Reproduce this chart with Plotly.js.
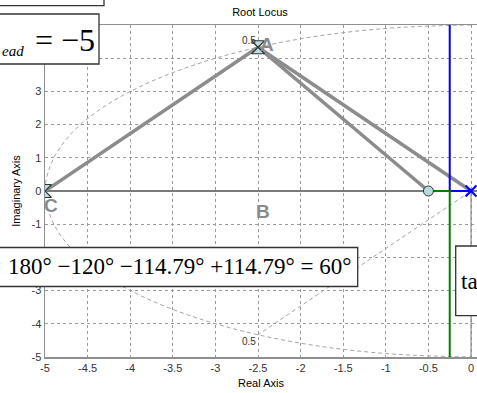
<!DOCTYPE html>
<html>
<head>
<meta charset="utf-8">
<script src="https://cdn.plot.ly/plotly-3.0.1.min.js"></script>
<style>html,body{margin:0;padding:0;background:#fff;}#chart{width:477px;height:393px;}</style>
</head>
<body>
<div id="chart"></div>
<script>
// ---- data ----
const xTickVals = [-5, -4.5, -4, -3.5, -3, -2.5, -2, -1.5, -1, -0.5, 0];
const xTickText = ["-5", "-4.5", "-4", "-3.5", "-3", "-2.5", "-2", "-1.5", "-1", "-0.5", "0"];
const yTickVals = [-5, -4, -3, -2, -1, 0, 1, 2, 3, 4, 5];
// labels 4, 5 and -2 are hidden behind the pasted boxes in the reference
const yTickText = ["-5", "-4", "-3", "", "-1", "0", "1", "2", "3", "", ""];

// constant natural-frequency curve (dashed grey)
const wnRe = [0, -0.87, -1.71, -2.5, -3.21, -3.83, -4.33, -4.70, -4.92, -5, -4.92, -4.70, -4.33, -3.83, -3.21, -2.5, -1.71, -0.87, 0];
const wnIm = [5, 4.92, 4.70, 4.33, 3.83, 3.21, 2.5, 1.71, 0.87, 0, -0.87, -1.71, -2.5, -3.21, -3.83, -4.33, -4.70, -4.92, -5];
// constant damping ratio line (0.5)
const zetaRe = [-2.5, 0, -2.5];
const zetaIm = [4.33, 0, -4.33];
const zetaLabel = "0.5";

// thick grey construction lines C-A, A-zero, A-pole
const constrRe = [-5, -2.5, -0.5, null, -2.5, 0];
const constrIm = [0, 4.33, 0, null, 4.33, 0];

// root locus branches
const blueRe = [0, -0.25, -0.25];
const blueIm = [0, 0, 5];
const greenRe = [-0.5, -0.25, -0.25];
const greenIm = [0, 0, -5];

// markers
const desiredRe = [-2.5, -5];   // A and C
const desiredIm = [4.33, 0];
const zeroRe = [-0.5];
const zeroIm = [0];
const poleRe = [0];
const poleIm = [0];
const imAxisRe = [0, 0];
const imAxisIm = [0, -5];

const pointLabels = ["A", "B", "C"];
const leadText = "<i>ead</i>";
const leadValue = "= −5";
const angleText = "180° −120° −114.79° +114.79° = 60°";
const tanText = "ta";

// ---- plot ----
const L = 45, T = 25, W = 432, H = 332;
const px = v => (v - L) / W;
const py = v => (T + H - v) / H;

const grey = '#8c8c8c';
const traces = [
  {x: wnRe, y: wnIm, mode: 'lines', line: {color: '#a4a4a4', width: 1, dash: '4px,3px', shape: 'spline'}, hoverinfo: 'skip'},
  {x: zetaRe, y: zetaIm, mode: 'lines', line: {color: '#a4a4a4', width: 1, dash: '4px,3px'}, hoverinfo: 'skip'},
  {x: imAxisRe, y: imAxisIm, mode: 'lines', line: {color: '#8a8a8a', width: 1.2}, hoverinfo: 'skip'},
  {x: constrRe, y: constrIm, mode: 'lines', line: {color: grey, width: 3.5}, hoverinfo: 'skip'},
  {x: blueRe, y: blueIm, mode: 'lines', line: {color: '#0000ff', width: 2}},
  {x: greenRe, y: greenIm, mode: 'lines', line: {color: '#008000', width: 2}},
  {x: desiredRe, y: desiredIm, mode: 'markers', marker: {symbol: 'hourglass', size: 13, color: '#b4e0e6', line: {color: '#333333', width: 1.2}}},
  {x: zeroRe, y: zeroIm, mode: 'markers', marker: {symbol: 'circle', size: 10, color: '#b8dada', line: {color: '#333', width: 1}}},
  {x: poleRe, y: poleIm, mode: 'markers', marker: {symbol: 'x-thin-open', size: 11, color: '#0000ff', line: {color: '#0000ff', width: 2.2}}}
];

const sans = 'Liberation Sans, Arial, sans-serif';
const serif = 'Liberation Serif, Times New Roman, serif';

const boxStyle = {type: 'rect', xref: 'paper', yref: 'paper', fillcolor: '#ffffff', line: {color: '#333333', width: 1.3}, layer: 'above'};
const shapes = [
  Object.assign({x0: px(-10), x1: px(104), y0: py(5.7), y1: py(-10)}, boxStyle),
  Object.assign({x0: px(-10), x1: px(99), y0: py(64), y1: py(14)}, boxStyle),
  Object.assign({x0: px(-10), x1: px(357.7), y0: py(286.5), y1: py(247.5)}, boxStyle),
  Object.assign({x0: px(455.7), x1: px(495), y0: py(315.7), y1: py(246)}, boxStyle)
];

const letterFont = {family: sans, size: 19, color: '#8a8a8a', weight: 'bold'};
const annotations = [
  {x: -2.39, y: 4.41, text: '<b>' + pointLabels[0] + '</b>', font: letterFont},
  {x: -2.44, y: -0.62, text: '<b>' + pointLabels[1] + '</b>', font: letterFont},
  {x: -4.93, y: -0.44, text: '<b>' + pointLabels[2] + '</b>', font: letterFont},
  {x: -2.61, y: 4.52, text: zetaLabel, font: {family: sans, size: 10, color: '#333'}},
  {x: -2.605, y: -4.54, text: zetaLabel, font: {family: sans, size: 10, color: '#333'}},
  {xref: 'paper', yref: 'paper', x: px(0), y: py(51), xanchor: 'left', yanchor: 'middle', text: leadText, font: {family: serif, size: 15, color: '#000'}},
  {xref: 'paper', yref: 'paper', x: px(33), y: py(40), xanchor: 'left', yanchor: 'middle', text: leadValue, font: {family: serif, size: 32, color: '#000'}},
  {xref: 'paper', yref: 'paper', x: px(3), y: py(266), xanchor: 'right', yanchor: 'middle', text: '=', font: {family: serif, size: 23, color: '#000'}},
  {xref: 'paper', yref: 'paper', x: px(6), y: py(266), xanchor: 'left', yanchor: 'middle', text: angleText, font: {family: serif, size: 23, color: '#000'}},
  {xref: 'paper', yref: 'paper', x: px(459), y: py(281), xanchor: 'left', yanchor: 'middle', text: tanText, font: {family: serif, size: 23, color: '#000'}}
].map(a => Object.assign({showarrow: false, xanchor: 'center', yanchor: 'middle'}, a));

const axisCommon = {
  showgrid: true, gridcolor: '#9a9a9a', griddash: '3px,3px', gridwidth: 1,
  showline: true, linecolor: '#8f8f8f', linewidth: 1.5,
  ticks: '', tickfont: {family: sans, size: 11, color: '#333'},
  title: {font: {family: sans, size: 11, color: '#000'}}
};

const layout = {
  width: 477, height: 393,
  margin: {l: L, r: 477 - L - W, t: T, b: 393 - T - H, pad: 0},
  paper_bgcolor: '#fff', plot_bgcolor: '#fff',
  showlegend: false,
  title: {text: 'Root Locus', font: {family: sans, size: 11, color: '#000'}, x: px(260), xref: 'paper', xanchor: 'center', y: 1 - 12 / 393, yref: 'container', yanchor: 'middle'},
  xaxis: Object.assign({}, axisCommon, {
    range: [-5, 0.07], tickvals: xTickVals, ticktext: xTickText, zeroline: false, mirror: true,
    title: {text: 'Real Axis', font: {family: sans, size: 11, color: '#000'}, standoff: 6}
  }),
  yaxis: Object.assign({}, axisCommon, {
    range: [-5, 5], tickvals: yTickVals, ticktext: yTickText, zeroline: true, zerolinecolor: '#7a7a7a', zerolinewidth: 1.3, mirror: false,
    title: {text: 'Imaginary Axis', font: {family: sans, size: 11, color: '#000'}, standoff: 8}
  }),
  shapes: shapes,
  annotations: annotations
};

Plotly.newPlot('chart', traces, layout, {staticPlot: true, displayModeBar: false});
</script>
</body>
</html>
